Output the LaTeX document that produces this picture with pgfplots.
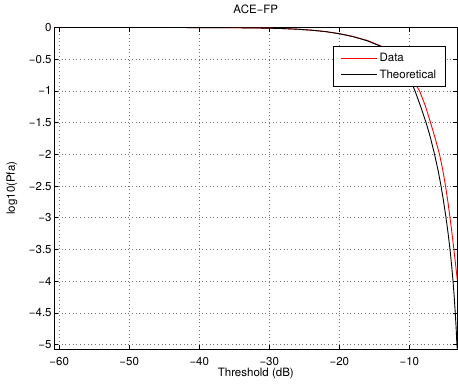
\documentclass[border=0pt]{standalone}
\usepackage{fontspec}
\setmainfont{TeX Gyre Heros}
\usepackage{pgfplots}
\pgfplotsset{compat=1.18}
\pgfplotstableread{
x y
-60.7 0
-50 -0.0001
-45 -0.0004
-40 -0.001
-35 -0.0035
-32 -0.007
-30 -0.011
-28 -0.017
-26 -0.027
-24 -0.042
-22 -0.064
-20 -0.097
-18 -0.143
-16 -0.205
-14 -0.295
-13 -0.36
-12 -0.445
-11 -0.57
-10 -0.73
-9.2 -0.88
-8.54 -1.0
-7.7 -1.24
-6.97 -1.5
-6.3 -1.75
-5.69 -2.0
-5.22 -2.25
-4.83 -2.5
-4.49 -2.75
-4.19 -3.0
-3.9 -3.25
-3.64 -3.5
-3.38 -3.75
-3.15 -3.98
}\datatab
\pgfplotstableread{
x y
-60.7 0
-50 -0.0001
-45 -0.0004
-40 -0.001
-35 -0.0035
-32 -0.007
-30 -0.011
-28 -0.017
-26 -0.027
-24 -0.042
-22 -0.064
-20 -0.098
-18 -0.145
-16 -0.21
-14 -0.30
-13 -0.37
-12 -0.46
-11 -0.6
-10 -0.79
-9.19 -1.0
-8.4 -1.24
-7.61 -1.5
-7.0 -1.73
-6.4 -2.0
-5.9 -2.25
-5.47 -2.5
-5.1 -2.75
-4.76 -3.0
-4.46 -3.25
-4.19 -3.5
-3.96 -3.75
-3.76 -4.0
-3.59 -4.25
-3.44 -4.5
-3.31 -4.75
-3.21 -5.0
-3.15 -5.07
}\theotab
\begin{document}
\fontsize{11.5}{13.8}\selectfont
\begin{tikzpicture}
\begin{axis}[
  at={(0,0)}, anchor=south west,
  scale only axis, width=403pt, height=321.5pt,
  xmin=-60.7, xmax=-3.15, ymin=-5.07, ymax=0,
  xtick={-60,-50,-40,-30,-20,-10},
  xticklabels={−60,−50,−40,−30,−20,−10},
  ytick={-5,-4.5,-4,-3.5,-3,-2.5,-2,-1.5,-1,-0.5,0},
  yticklabels={−5,−4.5,−4,−3.5,−3,−2.5,−2,−1.5,−1,−0.5,0},
  tick align=inside, major tick length=4pt,
  every tick/.style={black, line width=0.6pt},
  grid=major,
  major grid style={black!55, line width=0.5pt, dash pattern=on 0.7pt off 3pt},
  axis line style={line width=0.9pt},
  xticklabel style={anchor=north, inner sep=0pt, yshift=-7.7pt},
  yticklabel style={anchor=east, inner sep=0pt, xshift=-2.5pt},
  ticklabel style={font=\fontsize{11.5}{13.8}\selectfont},
  title={ACE−FP},
  title style={at={(axis description cs:0.5,1.0389)}, anchor=center, inner sep=0pt, font=\fontsize{11.5}{13.8}\selectfont},
  xlabel={Threshold (dB)},
  xlabel style={at={(axis description cs:0.5,-0.0778)}, anchor=center, inner sep=0pt, font=\fontsize{11.5}{13.8}\selectfont},
  ylabel={log10(Pfa)},
  ylabel style={at={(axis description cs:-0.105,0.5)}, anchor=center, inner sep=0pt, font=\fontsize{11.5}{13.8}\selectfont},
  legend style={at={(0.971,0.942)}, anchor=north east, draw=black, line width=0.8pt,
    fill=white, inner xsep=7pt, inner ysep=4.8pt, row sep=2.3pt,
    nodes={inner sep=2pt}, cells={anchor=west},
    font=\fontsize{11.5}{13.8}\selectfont},
  legend image code/.code={\draw[#1] (0pt,0pt) -- (36pt,0pt);},
]
\addplot[red, line width=0.9pt] table[x=x, y=y] {\datatab};
\addlegendentry{Data}
\addplot[black, line width=0.9pt] table[x=x, y=y] {\theotab};
\addlegendentry{Theoretical}
\end{axis}
\pgfresetboundingbox
\useasboundingbox (-54.3pt,-35pt) rectangle (403.7pt,349pt);
\end{tikzpicture}
\end{document}
